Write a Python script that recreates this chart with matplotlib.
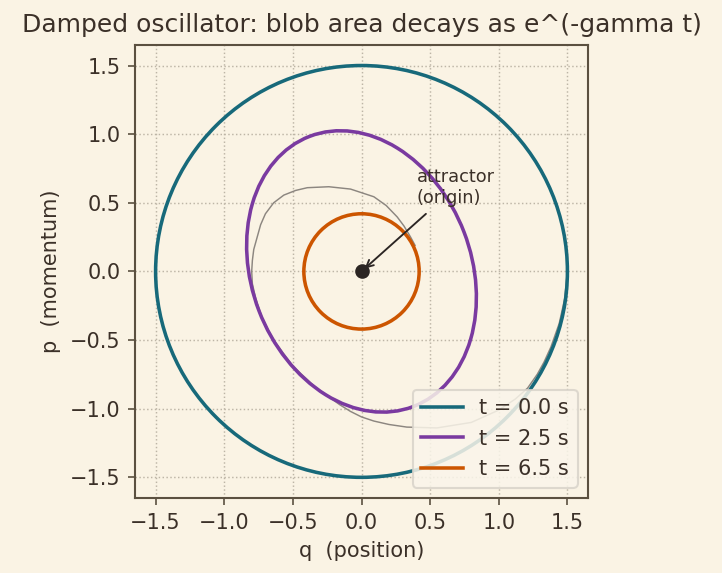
import numpy as np
import matplotlib
matplotlib.use("Agg")
import matplotlib.pyplot as plt
from matplotlib.patches import Ellipse
from matplotlib.lines import Line2D

# ---- Data
times = [0.0, 2.5, 6.5]                 # snapshot times [s]
blob_width = [3.0, 2.108, 0.84]         # full ellipse width (before rotation)
blob_height = [3.0, 1.60, 0.84]         # full ellipse height
blob_angle = [0., 111., 0.]             # rotation [deg]
blob_colors = ["#17697a", "#7a3aa0", "#cc5500"]

# trajectory of the point starting at (1.5, 0)
traj_q = [1.50, 1.48, 1.44, 1.38, 1.33, 1.28, 1.21, 1.12, 1.00, 0.80, 0.55,
          0.33, 0.20, 0.09, 0.00, -0.08, -0.16, -0.34, -0.50, -0.64, -0.72,
          -0.77, -0.795, -0.80, -0.795, -0.785, -0.76, -0.735, -0.70, -0.64,
          -0.566, -0.48, -0.395, -0.238, -0.08, 0.09, 0.18, 0.26, 0.31, 0.357, 0.39]
traj_p = [0.00, -0.20, -0.38, -0.55, -0.66, -0.75, -0.85, -0.93, -1.01, -1.10,
          -1.14, -1.134, -1.115, -1.09, -1.06, -1.02, -0.97, -0.84, -0.69, -0.50,
          -0.35, -0.20, -0.09, 0.00, 0.08, 0.16, 0.25, 0.34, 0.42, 0.50,
          0.556, 0.59, 0.61, 0.617, 0.60, 0.544, 0.48, 0.397, 0.33, 0.251, 0.19]

bg = "#faf3e4"
ink = "#3b3028"
spine_col = "#5b5040"

plt.rcParams.update({
    "font.family": "DejaVu Sans",
    "text.color": ink,
    "axes.labelcolor": ink,
    "xtick.color": spine_col,
    "ytick.color": spine_col,
    "xtick.labelcolor": ink,
    "ytick.labelcolor": ink,
})

fig = plt.figure(figsize=(7.22/1.5, 5.73/1.5), dpi=150, facecolor=bg)
ax = fig.add_axes([0.187, 0.131, 0.6274, 0.7906], facecolor=bg)

# thin trajectory line
ax.plot(traj_q, traj_p, color="#8c8680", lw=0.7, zorder=1)

handles = []
for t, w, h, ang, c in zip(times, blob_width, blob_height, blob_angle, blob_colors):
    e = Ellipse((0., 0.), w, h, angle=ang, fill=False, edgecolor=c, lw=1.7, zorder=3)
    ax.add_patch(e)
    handles.append(Line2D([], [], color=c, lw=1.7, label="t = %.1f s" % t))

# attractor
ax.plot([0.], [0.], "o", color="#2b2523", ms=6, zorder=5)
ax.annotate("attractor\n(origin)", xy=(0., 0.), xytext=(0.40, 0.47),
            fontsize=8.5, color=ink, ha="left", va="bottom",
            arrowprops=dict(arrowstyle="->", color="#2b2523", lw=0.9))

ax.set_xlim(-1.65, 1.65)
ax.set_ylim(-1.65, 1.65)
ax.set_aspect("equal")
ax.set_xticks([-1.5, -1.0, -0.5, 0.0, 0.5, 1.0, 1.5])
ax.set_yticks([-1.5, -1.0, -0.5, 0.0, 0.5, 1.0, 1.5])
ax.tick_params(labelsize=10)
ax.grid(True, ls=":", color="#bdb5a6", lw=0.7)
ax.set_axisbelow(True)
for s in ax.spines.values():
    s.set_color(spine_col)
    s.set_linewidth(1.0)

ax.set_xlabel("q  (position)", fontsize=10)
ax.set_ylabel("p  (momentum)", fontsize=10)
ax.set_title("Damped oscillator: blob area decays as e^(-gamma t)", fontsize=12, color=ink)

leg = ax.legend(handles=handles, loc="lower right", fontsize=10,
                facecolor="#faf5ea", edgecolor="#d8d3ca", framealpha=0.85)

fig.savefig("out.png", dpi=150, facecolor=bg)
